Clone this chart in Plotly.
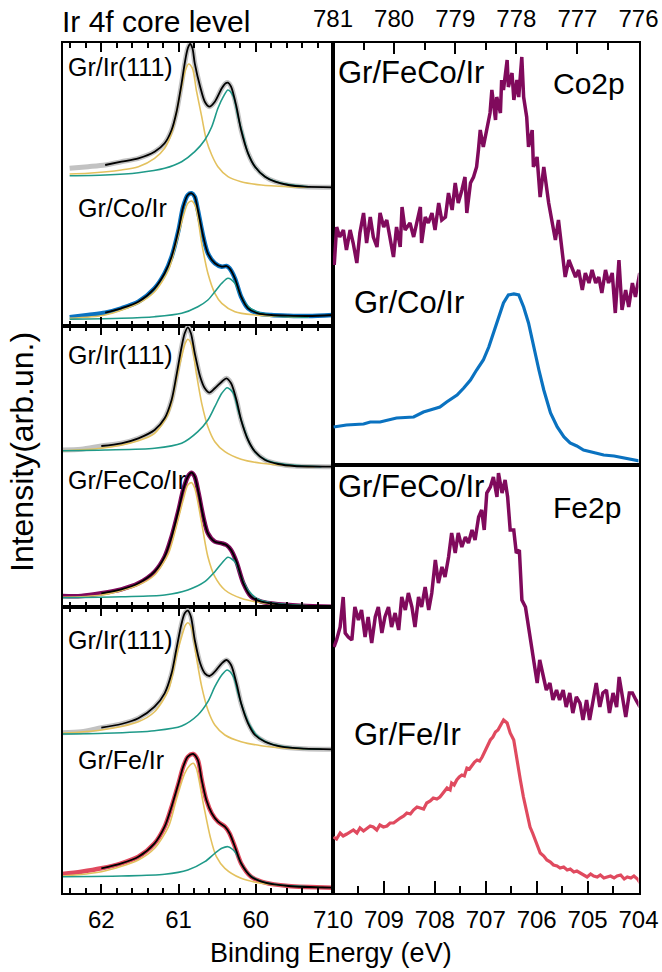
import plotly.graph_objects as go

W, H = 662, 972
FONT = "Arial, Liberation Sans, sans-serif"

# ---------------- Ir 4f spectra (binding energy in eV, intensity in arb. units) ----------------
# Top panel: Gr/Ir(111) reference and Gr/Co/Ir
ir1_x = [62.41, 62.17, 61.95, 61.74, 61.52, 61.31, 61.18, 61.09, 61.03, 60.96, 60.92, 60.88, 60.85, 60.82,
         60.79, 60.72, 60.66, 60.60, 60.53, 60.44, 60.39, 60.36, 60.32, 60.25, 60.19, 60.10, 60.01, 59.88,
         59.75, 59.58, 59.37, 59.00]
ir1_y = [157.7, 159.3, 161, 164.3, 167.7, 174.3, 182.7, 196, 212.7, 242.7, 262.7, 277.7, 282, 277.7,
         262.7, 239.3, 224.3, 219.3, 224.3, 237.7, 242.7, 243.3, 239.3, 219.3, 196, 172.7, 159.3, 149.3,
         144.3, 141, 139.3, 138.7]
ir1_bulk_x = [62.41, 62.17, 61.74, 61.52, 61.31, 61.18, 61.09, 61.03, 60.96, 60.91, 60.87, 60.82, 60.77,
              60.70, 60.64, 60.57, 60.49, 60.36, 60.19, 59.93, 59.58, 59.32]
ir1_bulk_y = [152, 152.7, 156, 159.3, 167.7, 177.7, 192.7, 212.7, 239.3, 256, 262, 257.7, 236,
              209.3, 186, 171, 159.3, 149.3, 144.3, 141, 139.3, 138.7]
ir1_surf_x = [62.41, 61.95, 61.52, 61.18, 60.96, 60.79, 60.66, 60.57, 60.49, 60.42, 60.36, 60.29, 60.23,
              60.16, 60.10, 60.01, 59.88, 59.71, 59.50, 59.32]
ir1_surf_y = [150.3, 151, 153.3, 157.7, 164.3, 174.3, 186, 199.3, 217.7, 229.3, 236, 229.3, 209.3,
              189.3, 172.7, 159.3, 149.3, 143.7, 140.7, 139.3]

co_x = [62.41, 62.17, 61.95, 61.74, 61.52, 61.31, 61.18, 61.09, 61.00, 60.94, 60.88, 60.83, 60.79, 60.75,
        60.68, 60.62, 60.53, 60.44, 60.38, 60.34, 60.27, 60.19, 60.10, 59.97, 59.80, 59.58, 59.32, 59.00]
co_y = [8.7, 11, 13.3, 17.7, 24.3, 37.7, 52.7, 69.3, 96, 119.3, 131, 132.7, 129.3, 116,
        89.3, 72.7, 62.7, 59.3, 60, 57.7, 47.7, 29.3, 17.7, 12.7, 11, 10.3, 10, 11]
co_bulk_x = [62.41, 61.95, 61.52, 61.31, 61.13, 61.03, 60.94, 60.88, 60.83, 60.78, 60.70, 60.62, 60.53,
             60.44, 60.27, 60.01, 59.58, 59.32]
co_bulk_y = [7.7, 11, 22.7, 34.3, 56, 82.7, 109.3, 122.7, 125, 119.3, 82.7, 52.7, 32.7,
             22.7, 14.3, 11, 9.3, 8.7]
co_surf_x = [62.41, 61.74, 61.31, 60.96, 60.75, 60.62, 60.53, 60.44, 60.36, 60.27, 60.19, 60.10, 59.97,
             59.75, 59.32]
co_surf_y = [6.7, 7.7, 9.3, 12.7, 19.3, 26, 34.3, 42.7, 47.7, 42.7, 29.3, 19.3, 13.7, 10.3, 8.7]

# Middle panel: Gr/Ir(111) reference and Gr/FeCo/Ir
ir2_x = [62.51, 62.26, 62.00, 61.74, 61.52, 61.31, 61.18, 61.09, 61.03, 60.96, 60.92, 60.88, 60.84, 60.79,
         60.72, 60.66, 60.60, 60.53, 60.44, 60.38, 60.32, 60.25, 60.19, 60.10, 60.01, 59.88, 59.71, 59.50,
         59.00]
ir2_y = [157, 157.7, 161, 163.7, 168.7, 177, 188.7, 207, 230.3, 260.3, 273.7, 279.7, 273.7, 253.7,
         230.3, 218.7, 214.3, 218.7, 225.3, 228.7, 223.7, 207, 187, 167, 155.3, 147, 143, 141,
         140.3]
ir2_bulk_x = [62.51, 62.00, 61.52, 61.31, 61.13, 61.03, 60.96, 60.91, 60.88, 60.83, 60.77, 60.70, 60.62,
              60.53, 60.40, 60.19, 59.93, 59.58, 59.24]
ir2_bulk_y = [156.3, 158.7, 166.3, 173.7, 193.7, 227, 250.3, 264.3, 267.7, 262, 233.7, 203.7, 180.3,
              165.3, 155.3, 147.7, 143.7, 141.3, 140.3]
ir2_surf_x = [62.51, 61.95, 61.31, 60.96, 60.75, 60.62, 60.53, 60.44, 60.37, 60.29, 60.23, 60.16, 60.08,
              59.97, 59.80, 59.50, 59.15]
ir2_surf_y = [156.3, 157, 158.7, 163.7, 175.3, 187, 200.3, 213.7, 219.3, 213.7, 197, 180.3, 163.7,
              152, 145.3, 141.7, 140.3]

feco_x = [62.51, 62.26, 62.00, 61.74, 61.52, 61.31, 61.18, 61.09, 61.00, 60.94, 60.88, 60.83, 60.79, 60.74,
          60.68, 60.62, 60.53, 60.44, 60.38, 60.32, 60.25, 60.16, 60.06, 59.93, 59.71, 59.41, 59.00]
feco_y = [11, 11, 13.7, 17.7, 23.7, 35.3, 50.3, 70.3, 97, 117, 130.3, 134.3, 130.3, 113.7,
          90.3, 73.7, 65.3, 63.7, 62, 57, 45.3, 23.7, 10.3, 5.3, 2.7, 1.3, 0.3]
feco_bulk_x = [62.51, 62.00, 61.52, 61.31, 61.13, 61.03, 60.94, 60.88, 60.83, 60.79, 60.70, 60.62, 60.53,
               60.40, 60.19, 59.93, 59.58, 59.15]
feco_bulk_y = [9.7, 12, 22, 32, 53.7, 80.3, 107, 122, 124.3, 118.7, 83.7, 50.3, 30.3,
               17, 8.7, 4.3, 2, 1]
feco_surf_x = [62.51, 61.74, 61.18, 60.88, 60.66, 60.53, 60.44, 60.36, 60.27, 60.19, 60.10, 59.97,
               59.75, 59.32]
feco_surf_y = [9.3, 10.3, 12, 17, 25.3, 35.3, 43.7, 49.7, 45.3, 30.3, 17, 7.7, 3.7, 1.3]

# Bottom panel: Gr/Ir(111) reference and Gr/Fe/Ir
ir3_x = [62.51, 62.26, 62.00, 61.74, 61.52, 61.31, 61.18, 61.09, 61.03, 60.96, 60.92, 60.88, 60.84, 60.79,
         60.72, 60.66, 60.60, 60.53, 60.44, 60.38, 60.32, 60.25, 60.19, 60.10, 60.01, 59.88, 59.67, 59.37,
         59.00]
ir3_y = [160.3, 161.3, 165.3, 169, 174.7, 186.3, 199.7, 219.7, 243, 269.7, 279.7, 282.3, 276.3, 253,
         229.7, 219.7, 217, 221.3, 229.7, 233, 228, 209.7, 189.7, 169.7, 158, 151.3, 146.3, 144.3,
         143.7]
ir3_bulk_x = [62.51, 62.00, 61.52, 61.31, 61.13, 61.03, 60.96, 60.91, 60.88, 60.83, 60.77, 60.70, 60.62,
              60.53, 60.40, 60.19, 59.93, 59.58, 59.15]
ir3_bulk_y = [159.7, 163, 171.3, 181.3, 203, 236.3, 256.3, 268, 270.3, 264.7, 236.3, 206.3, 183,
              168, 158, 151.3, 147.3, 144.7, 143.7]
ir3_surf_x = [62.51, 61.95, 61.31, 60.96, 60.75, 60.62, 60.53, 60.44, 60.37, 60.29, 60.23, 60.16, 60.08,
              59.97, 59.80, 59.50, 59.15]
ir3_surf_y = [159, 159.7, 162.3, 167, 178, 191.3, 206.3, 218, 223, 216.3, 199.7, 183, 168,
              156.3, 149, 145, 143.7]

fe_x = [62.51, 62.26, 62.00, 61.74, 61.52, 61.31, 61.18, 61.09, 61.00, 60.94, 60.88, 60.81, 60.75, 60.70,
        60.64, 60.57, 60.49, 60.40, 60.34, 60.27, 60.19, 60.06, 59.88, 59.58, 59.00]
fe_y = [19, 21.3, 24.7, 29.7, 36.3, 49.7, 66.3, 86.3, 109.7, 126.3, 136.3, 139, 133, 113,
        93, 79.7, 71.3, 66.3, 59.7, 46.3, 29.7, 16.3, 10.3, 7, 5.3]
fe_bulk_x = [62.51, 62.00, 61.52, 61.31, 61.13, 61.03, 60.92, 60.85, 60.81, 60.77, 60.68, 60.59, 60.51,
             60.40, 60.19, 59.93, 59.58, 59.15]
fe_bulk_y = [17, 21.3, 33, 44.7, 66.3, 93, 119.7, 128, 129.7, 124.7, 89.7, 56.3, 36.3,
             24.7, 14.7, 9.7, 7, 5.7]
fe_surf_x = [62.51, 61.74, 61.18, 60.88, 60.66, 60.53, 60.44, 60.36, 60.27, 60.19, 60.10, 59.97,
             59.75, 59.32]
fe_surf_y = [16.3, 17, 18.7, 23, 31.3, 39.7, 44.7, 46.3, 41.3, 29.7, 19.7, 13, 8.7, 6.3]

FIT_START = 2  # the fitted envelope starts at the third energy point
IR4F_TICKS = [62, 61, 60]

# ---------------- Co 2p spectra ----------------
co2p_feco_x = [780.98, 780.94, 780.89, 780.83, 780.78, 780.72, 780.67, 780.61, 780.56, 780.50, 780.45,
               780.39, 780.34, 780.28, 780.23, 780.17, 780.12, 780.07, 780.01, 779.96, 779.90, 779.87,
               779.82, 779.74, 779.68, 779.63, 779.57, 779.55, 779.49, 779.44, 779.38, 779.33, 779.27,
               779.22, 779.16, 779.11, 779.05, 779.00, 778.95, 778.89, 778.84, 778.81, 778.75, 778.70,
               778.65, 778.62, 778.59, 778.54, 778.48, 778.43, 778.40, 778.34, 778.32, 778.26, 778.24,
               778.21, 778.15, 778.13, 778.07, 778.04, 777.99, 777.96, 777.91, 777.88, 777.83, 777.80,
               777.74, 777.72, 777.66, 777.61, 777.55, 777.50, 777.47, 777.42, 777.36, 777.31, 777.25,
               777.20, 777.14, 777.09, 777.03, 776.98, 776.92, 776.87, 776.81, 776.76, 776.70, 776.65,
               776.60, 776.54, 776.49, 776.43, 776.38, 776.32, 776.27, 776.21, 776.16, 776.10, 776.05,
               775.98]
co2p_feco_y = [200, 238, 228, 235, 215, 235, 222, 202, 232, 252, 222,
               248, 228, 218, 252, 238, 245, 228, 208, 238, 218, 258,
               235, 242, 228, 242, 258, 222, 248, 242, 252, 235, 262,
               245, 248, 272, 255, 282, 262, 275, 288, 252, 282, 288,
               298, 315, 335, 318, 338, 352, 375, 345, 368, 352, 385,
               375, 405, 378, 392, 365, 385, 368, 408, 368, 348, 318,
               335, 298, 308, 268, 298, 275, 262, 245, 225, 245, 215,
               188, 205, 198, 188, 195, 175, 192, 182, 195, 182, 188,
               172, 195, 182, 192, 152, 205, 155, 175, 158, 182, 168,
               192]
co2p_co_x = [780.99, 780.78, 780.50, 780.39, 780.23, 779.96, 779.68, 779.52, 779.41, 779.25, 779.14,
             778.97, 778.86, 778.75, 778.65, 778.54, 778.45, 778.37, 778.29, 778.21, 778.13, 778.04,
             777.96, 777.88, 777.80, 777.72, 777.63, 777.55, 777.44, 777.33, 777.22, 777.12, 777.01,
             776.90, 776.73, 776.57, 776.40, 776.24, 775.98]
co2p_co_y = [38, 40, 41, 43, 43, 47, 48, 53, 55, 58, 63,
             70, 77, 85, 95, 105, 118, 132, 148, 162, 170, 171,
             170, 158, 142, 118, 95, 75, 52, 38, 28, 22, 19,
             15, 12, 10, 9, 7, 4]

# ---------------- Fe 2p spectra ----------------
fe2p_feco_x = [709.98, 709.93, 709.86, 709.80, 709.76, 709.70, 709.63, 709.57, 709.50, 709.44, 709.37,
               709.31, 709.24, 709.17, 709.11, 709.04, 708.98, 708.91, 708.85, 708.78, 708.71, 708.65,
               708.58, 708.52, 708.45, 708.39, 708.32, 708.26, 708.19, 708.12, 708.06, 707.99, 707.93,
               707.86, 707.80, 707.73, 707.67, 707.60, 707.54, 707.47, 707.40, 707.34, 707.27, 707.21,
               707.14, 707.08, 707.03, 706.98, 706.91, 706.85, 706.78, 706.75, 706.68, 706.62, 706.57,
               706.52, 706.45, 706.40, 706.34, 706.29, 706.22, 706.16, 706.09, 706.05, 705.99, 705.94,
               705.88, 705.81, 705.74, 705.68, 705.61, 705.55, 705.48, 705.42, 705.35, 705.29, 705.22,
               705.15, 705.09, 705.02, 704.96, 704.89, 704.83, 704.76, 704.70, 704.63, 704.57, 704.50,
               704.43, 704.38, 704.31, 704.25, 704.18, 704.12, 704.05, 703.97]
fe2p_feco_y = [246, 253, 266, 296, 260, 256, 253, 286, 273, 283, 256,
               276, 250, 276, 286, 260, 276, 286, 266, 280, 263, 296,
               283, 300, 286, 266, 296, 286, 306, 283, 300, 333, 310,
               326, 316, 336, 360, 340, 360, 346, 356, 350, 363, 353,
               376, 383, 363, 400, 406, 416, 396, 420, 400, 413, 396,
               363, 363, 340, 343, 293, 286, 266, 246, 233, 210, 233,
               220, 203, 210, 193, 203, 193, 203, 186, 200, 180, 196,
               190, 173, 193, 173, 193, 210, 186, 200, 203, 180, 200,
               186, 216, 193, 176, 200, 200, 193, 186]
fe2p_fe_x = [709.99, 709.93, 709.86, 709.80, 709.73, 709.66, 709.60, 709.53, 709.47, 709.40, 709.34,
             709.27, 709.21, 709.14, 709.08, 709.01, 708.94, 708.88, 708.81, 708.74, 708.68, 708.61,
             708.55, 708.48, 708.42, 708.35, 708.29, 708.22, 708.16, 708.09, 708.03, 707.96, 707.90,
             707.83, 707.76, 707.70, 707.67, 707.62, 707.57, 707.52, 707.47, 707.42, 707.37, 707.32,
             707.27, 707.22, 707.17, 707.12, 707.07, 707.01, 706.96, 706.91, 706.86, 706.81, 706.76,
             706.71, 706.65, 706.58, 706.52, 706.45, 706.39, 706.32, 706.26, 706.19, 706.13, 706.08,
             706.03, 705.98, 705.93, 705.86, 705.80, 705.73, 705.67, 705.60, 705.54, 705.47, 705.40,
             705.34, 705.27, 705.21, 705.14, 705.08, 705.01, 704.94, 704.88, 704.81, 704.75, 704.68,
             704.62, 704.55, 704.48, 704.42, 704.35, 704.28, 704.22, 704.15, 704.09, 704.02, 703.97]
fe2p_fe_y = [56, 54, 60, 57, 59, 61, 63, 60, 65, 62, 64,
             67, 66, 63, 68, 66, 67, 70, 70, 73, 75, 77,
             80, 79, 83, 86, 85, 84, 90, 92, 95, 94, 96,
             101, 105, 103, 110, 108, 113, 116, 118, 117, 125, 124,
             128, 131, 133, 132, 136, 143, 147, 153, 156, 161, 163,
             168, 173, 170, 160, 153, 133, 113, 96, 80, 66, 60,
             53, 47, 40, 37, 33, 31, 28, 27, 25, 26, 23,
             24, 21, 22, 20, 18, 16, 19, 17, 16, 18, 15,
             16, 17, 15, 17, 18, 14, 16, 15, 17, 14, 10]

# ---------------- colours ----------------
GRAY = "#c2c2c2"
BLACK = "#000000"
YELLOW = "#e3c15e"
TEAL = "#1f9a89"
BLUE = "#0a72c0"
MAROON = "#800a5c"
RED = "#e04a5f"


def px_x(p):
    return p / W


def px_y(p):
    return 1 - p / H


fig = go.Figure()


def add(x, y, color, width, axis, shape="spline"):
    fig.add_trace(go.Scatter(
        x=x, y=y, mode="lines", xaxis="x" + axis, yaxis="y" + axis,
        line=dict(color=color, width=width, shape=shape, smoothing=0.8),
        hoverinfo="skip", showlegend=False))


def ir_panel(axis, ref, ref_b, ref_s, sample, sample_b, sample_s, sample_color):
    (rx, ry), (sx, sy) = ref, sample
    add(rx, ry, GRAY, 5, axis)
    add(ref_b[0], ref_b[1], YELLOW, 1.6, axis)
    add(ref_s[0], ref_s[1], TEAL, 1.6, axis)
    add(rx[FIT_START:], ry[FIT_START:], BLACK, 1.8, axis)
    add(sx, sy, sample_color, 4.5, axis)
    add(sample_b[0], sample_b[1], YELLOW, 1.6, axis)
    add(sample_s[0], sample_s[1], TEAL, 1.6, axis)
    add(sx[FIT_START:], sy[FIT_START:], BLACK, 1.8, axis)


ir_panel("", (ir1_x, ir1_y), (ir1_bulk_x, ir1_bulk_y), (ir1_surf_x, ir1_surf_y),
         (co_x, co_y), (co_bulk_x, co_bulk_y), (co_surf_x, co_surf_y), BLUE)
ir_panel("2", (ir2_x, ir2_y), (ir2_bulk_x, ir2_bulk_y), (ir2_surf_x, ir2_surf_y),
         (feco_x, feco_y), (feco_bulk_x, feco_bulk_y), (feco_surf_x, feco_surf_y), MAROON)
ir_panel("3", (ir3_x, ir3_y), (ir3_bulk_x, ir3_bulk_y), (ir3_surf_x, ir3_surf_y),
         (fe_x, fe_y), (fe_bulk_x, fe_bulk_y), (fe_surf_x, fe_surf_y), RED)

add(co2p_feco_x, co2p_feco_y, MAROON, 3.5, "4", "linear")
add(co2p_co_x, co2p_co_y, BLUE, 3.2, "4", "linear")
add(fe2p_feco_x, fe2p_feco_y, MAROON, 3.5, "5", "linear")
add(fe2p_fe_x, fe2p_fe_y, RED, 3.2, "5", "linear")

# ---------------- axes ----------------
LEFT = (62.7, 333.0)
RIGHT = (333.0, 638.5)
TICKFONT = dict(family=FONT, size=24, color="black")


def xaxis(dom, rng, anchor, labels, minor_dtick, tickvals, side="bottom", mirror="allticks",
          major_len=9, minor_len=5):
    return dict(domain=[px_x(dom[0]), px_x(dom[1])], range=rng, anchor=anchor, side=side,
                showline=True, linecolor="black", linewidth=2, mirror=mirror,
                ticks="inside", ticklen=major_len, tickwidth=1.6, tickcolor="black",
                tickmode="array", tickvals=tickvals,
                minor=dict(dtick=minor_dtick, tick0=0, ticks="inside", ticklen=minor_len,
                           tickwidth=1.6, tickcolor="black"),
                showticklabels=labels, tickfont=TICKFONT, showgrid=False, zeroline=False,
                automargin=False, ticklabelstandoff=4)


def yaxis(top, bottom, anchor, height):
    return dict(domain=[px_y(bottom), px_y(top)], range=[0, height], anchor=anchor,
                showline=True, linecolor="black", linewidth=2, mirror=True,
                ticks="", showticklabels=False, showgrid=False, zeroline=False,
                automargin=False)


fig.update_layout(
    template="none",
    width=W, height=H, margin=dict(l=0, r=0, t=0, b=0, pad=0, autoexpand=False),
    paper_bgcolor="white", plot_bgcolor="white", showlegend=False,
    xaxis=xaxis(LEFT, [62.5, 59.0], "y", False, 0.2, IR4F_TICKS),
    yaxis=yaxis(43, 326, "x", 283),
    xaxis2=xaxis(LEFT, [62.5, 59.0], "y2", False, 0.2, IR4F_TICKS),
    yaxis2=yaxis(326, 607, "x2", 281),
    xaxis3=xaxis(LEFT, [62.5, 59.0], "y3", True, 0.2, IR4F_TICKS),
    yaxis3=yaxis(607, 893, "x3", 286),
    xaxis4=xaxis(RIGHT, [781, 776], "y4", True, 0.5, [781, 780, 779, 778, 777, 776],
                 side="top", mirror=True, major_len=11, minor_len=7),
    yaxis4=yaxis(43, 465, "x4", 422),
    xaxis5=xaxis(RIGHT, [710, 704], "y5", True, 0.5, [710, 709, 708, 707, 706, 705, 704],
                 mirror=True, major_len=12, minor_len=7),
    yaxis5=yaxis(465, 893, "x5", 428),
)

# ---------------- text ----------------
def label(text, x, y, size, **kw):
    fig.add_annotation(text=text, x=px_x(x), y=px_y(y), xref="paper", yref="paper",
                       xanchor=kw.get("xanchor", "left"), yanchor="middle", showarrow=False,
                       textangle=kw.get("angle", 0),
                       font=dict(family=FONT, size=size, color="black"))


label("Ir 4f core level", 60, 22, 30)
label("Binding Energy (eV)", 331, 953, 27, xanchor="center")
label("Intensity(arb.un.)", 22, 452, 32, xanchor="center", angle=-90)

label("Gr/Ir(111)", 66, 67, 25)
label("Gr/Co/Ir", 76, 208, 25)
label("Gr/Ir(111)", 66, 355, 25)
label("Gr/FeCo/Ir", 66, 480, 25)
label("Gr/Ir(111)", 66, 640, 25)
label("Gr/Fe/Ir", 76, 760, 25)

label("Gr/FeCo/Ir", 336, 73, 31)
label("Co2p", 551, 84, 30)
label("Gr/Co/Ir", 352, 302, 31)
label("Gr/FeCo/Ir", 336, 487, 31)
label("Fe2p", 551, 508, 30)
label("Gr/Fe/Ir", 352, 734, 31)

fig.write_html("out.html")
